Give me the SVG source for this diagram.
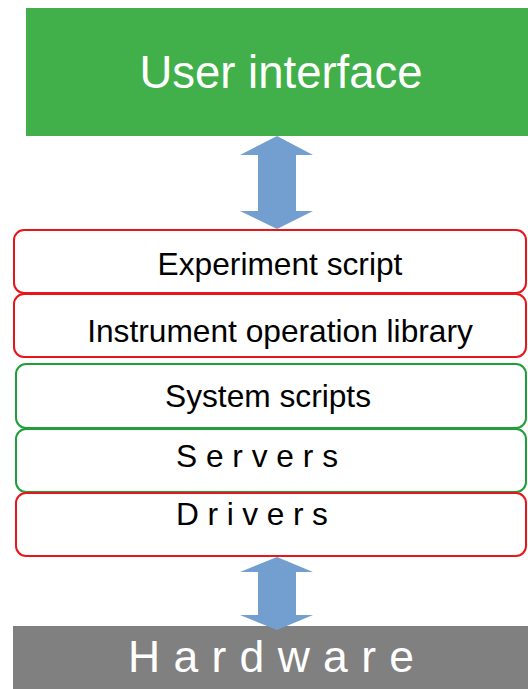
<svg xmlns="http://www.w3.org/2000/svg" width="528" height="689" viewBox="0 0 528 689">
<style>
.t{font-family:"Liberation Sans",Arial,sans-serif;font-size:31.7px;fill:#000}
.red{fill:#fff;stroke:#e8161b;stroke-width:2}
.grn{fill:#fff;stroke:#1f9e3a;stroke-width:2}
.arr{fill:#729fcf}
</style>
<rect x="0" y="0" width="528" height="689" fill="#fff"/>
<g id="ui">
<rect x="26" y="8" width="502" height="128" fill="#41b04a"/>
<text x="281" y="88" text-anchor="middle" style="font-family:'Liberation Sans',Arial,sans-serif;font-size:45.5px;fill:#fff">User interface</text>
</g>
<g id="experiment">
<rect class="red" x="14" y="230" width="512" height="63" rx="10"/>
<text class="t" x="280" y="275" text-anchor="middle">Experiment script</text>
</g>
<g id="library">
<rect class="red" x="14" y="294" width="512" height="63" rx="10"/>
<text class="t" x="280" y="342" text-anchor="middle">Instrument operation library</text>
</g>
<g id="system">
<rect class="grn" x="16" y="364" width="510" height="64" rx="10"/>
<text class="t" x="268" y="407" text-anchor="middle">System scripts</text>
</g>
<g id="servers">
<rect class="grn" x="16" y="429" width="510" height="63" rx="10"/>
<text class="t" x="176" y="467" letter-spacing="8.8">Servers</text>
</g>
<g id="drivers">
<rect class="red" x="16" y="493" width="510" height="63" rx="10"/>
<text class="t" x="176" y="525" letter-spacing="8.6">Drivers</text>
</g>
<g id="hardware">
<rect x="13" y="626" width="515" height="63" fill="#808080"/>
<text x="128" y="672" letter-spacing="13.3" style="font-family:'Liberation Sans',Arial,sans-serif;font-size:44.5px;fill:#fff">Hardware</text>
</g>
<g id="connectors">
<path class="arr" d="M277,136 L313,155 L296,155 L296,211 L313,211 L277,229 L240,211 L258,211 L258,155 L240,155 Z"/>
<path class="arr" d="M277,557 L313,572 L296,572 L296,615 L313,615 L277,630 L240,615 L258,615 L258,572 L240,572 Z"/>
</g>
</svg>
